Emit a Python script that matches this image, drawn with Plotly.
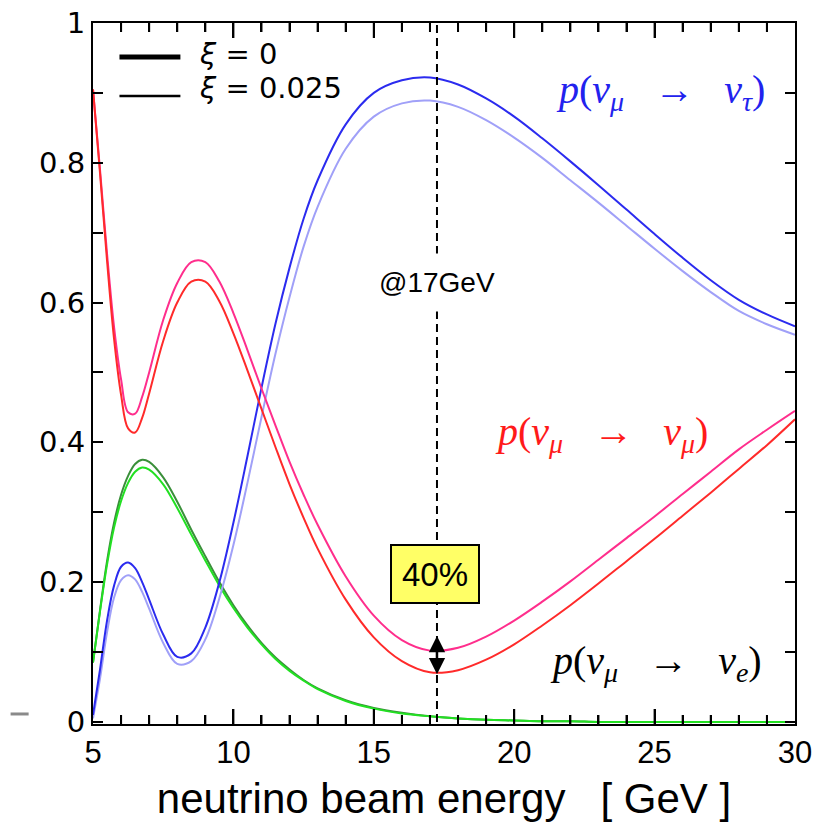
import plotly.graph_objects as go

# ---------------- data ----------------
energy = [5, 5.25, 5.5, 5.75, 6, 6.25, 6.5, 6.75, 7, 7.5, 8, 8.5, 9, 9.5, 10, 10.5,
          11, 11.5, 12, 12.5, 13, 14, 15, 16, 17, 18, 19, 20, 21, 22, 23, 24, 25,
          26, 27, 28, 29, 30]

p_tau_xi0 = [0.010, 0.075, 0.145, 0.195, 0.222, 0.228, 0.220, 0.200, 0.175, 0.125,
             0.093, 0.098, 0.135, 0.200, 0.285, 0.380, 0.478, 0.570, 0.650, 0.720,
             0.775, 0.855, 0.900, 0.918, 0.922, 0.912, 0.892, 0.866, 0.835, 0.802,
             0.768, 0.733, 0.698, 0.664, 0.632, 0.604, 0.583, 0.566]
p_tau_xi1 = [0.005, 0.062, 0.128, 0.178, 0.203, 0.210, 0.204, 0.186, 0.162, 0.113,
             0.083, 0.087, 0.118, 0.177, 0.253, 0.342, 0.436, 0.527, 0.608, 0.680,
             0.737, 0.820, 0.866, 0.885, 0.889, 0.880, 0.861, 0.836, 0.807, 0.775,
             0.743, 0.710, 0.677, 0.645, 0.615, 0.588, 0.569, 0.554]

p_mu_xi0 = [0.905, 0.790, 0.670, 0.565, 0.490, 0.443, 0.441, 0.465, 0.500, 0.575,
            0.628, 0.658, 0.658, 0.630, 0.585, 0.532, 0.477, 0.424, 0.372, 0.325,
            0.282, 0.208, 0.152, 0.117, 0.102, 0.106, 0.122, 0.145, 0.172, 0.201,
            0.232, 0.263, 0.294, 0.326, 0.358, 0.390, 0.418, 0.445]
p_mu_xi1 = [0.905, 0.785, 0.660, 0.548, 0.468, 0.420, 0.414, 0.435, 0.470, 0.545,
            0.600, 0.630, 0.630, 0.602, 0.556, 0.503, 0.448, 0.393, 0.340, 0.292,
            0.248, 0.175, 0.121, 0.087, 0.071, 0.074, 0.089, 0.111, 0.138, 0.167,
            0.198, 0.230, 0.262, 0.295, 0.328, 0.362, 0.396, 0.433]

p_e_xi0 = [0.085, 0.160, 0.230, 0.285, 0.325, 0.352, 0.369, 0.375, 0.372, 0.350,
           0.315, 0.275, 0.237, 0.200, 0.167, 0.138, 0.113, 0.092, 0.075, 0.060,
           0.048, 0.031, 0.020, 0.013, 0.008, 0.005, 0.003, 0.002, 0.001, 0.001,
           0.000, 0.000, 0.000, 0.000, 0.000, 0.000, 0.000, 0.000]
p_e_xi1 = [0.085, 0.158, 0.225, 0.278, 0.316, 0.342, 0.358, 0.364, 0.361, 0.340,
           0.306, 0.268, 0.231, 0.195, 0.163, 0.135, 0.111, 0.090, 0.073, 0.059,
           0.047, 0.030, 0.019, 0.012, 0.008, 0.005, 0.003, 0.002, 0.001, 0.001,
           0.000, 0.000, 0.000, 0.000, 0.000, 0.000, 0.000, 0.000]

y_ticktext = ["0", "0.2", "0.4", "0.6", "0.8", "1"]
y_ticks = [0, 0.2, 0.4, 0.6, 0.8, 1]
x_major_ticks = [10, 15, 20, 25]
x_minor_ticks = [6, 7, 8, 9, 11, 12, 13, 14, 16, 17, 18, 19, 21, 22, 23, 24,
                 26, 27, 28, 29]

E_MARK = 17.25          # energy of the dashed marker line
P_MU_MIN_XI0 = 0.101    # survival minimum, xi = 0
P_MU_MIN_XI1 = 0.070    # survival minimum, xi = 0.025

# ---------------- figure ----------------
SANS = "Liberation Sans, Arial, sans-serif"
WIDE = "DejaVu Sans, Verdana, sans-serif"
SERIF = "Liberation Serif, Times New Roman, serif"

series = [
    (p_e_xi0, "#3a8f3a"),
    (p_e_xi1, "#22e022"),
    (p_tau_xi1, "#a0a0f8"),
    (p_tau_xi0, "#2b2bef"),
    (p_mu_xi0, "#ff2e8c"),
    (p_mu_xi1, "#ff2a2a"),
]

fig = go.Figure()
for ys, col in series:
    fig.add_trace(go.Scatter(x=energy, y=ys, mode="lines",
                             line=dict(color=col, width=2, shape="spline", smoothing=1.0),
                             showlegend=False, hoverinfo="skip"))

fig.update_layout(
    width=814, height=834,
    margin=dict(l=93, r=19, t=23, b=110, autoexpand=False),
    paper_bgcolor="white", plot_bgcolor="white",
    showlegend=False,
    font=dict(family=SANS, color="black"),
    xaxis=dict(
        range=[5, 30], dtick=5, tick0=5,
        ticks="inside", ticklen=15, tickwidth=2, tickcolor="#000000",
        minor=dict(dtick=1, ticks="inside", ticklen=9, tickwidth=2, tickcolor="#000000"),
        showline=True, linecolor="black", linewidth=2,
        mirror="ticks", showgrid=False, zeroline=False, automargin=False,
        tickfont=dict(size=31, family=SANS, color="black"),
        title=dict(text="neutrino beam energy   [ GeV ]",
                   font=dict(size=42, family=SANS, color="black"), standoff=14),
    ),
    yaxis=dict(
        range=[-0.003, 1], tickmode="array", tickvals=y_ticks, ticktext=y_ticktext,
        ticks="inside", ticklen=10, tickwidth=2, tickcolor="black",
        minor=dict(dtick=0.1, ticks="inside", ticklen=10, tickwidth=2, tickcolor="black"),
        showline=True, linewidth=2, linecolor="black", mirror="ticks",
        showgrid=False, zeroline=False, automargin=False,
        tickfont=dict(size=29, family=WIDE, color="black"),
    ),
)

# x tick marks, bottom and top, placed through the x scale
MAJ_LEN = 15 / 701.0
MIN_LEN = 9 / 701.0
for xv, ln in [(v, MAJ_LEN) for v in x_major_ticks] + [(v, MIN_LEN) for v in x_minor_ticks]:
    fig.add_shape(type="line", xref="x", yref="paper", x0=xv, x1=xv, y0=0, y1=ln,
                  line=dict(color="black", width=2), layer="above")
    fig.add_shape(type="line", xref="x", yref="paper", x0=xv, x1=xv, y0=1 - ln, y1=1,
                  line=dict(color="black", width=2), layer="above")

# dashed marker line
fig.add_shape(type="line", xref="x", yref="y", x0=E_MARK, x1=E_MARK, y0=0, y1=1,
              line=dict(color="black", width=2, dash="8px,5px"), layer="above")

# legend (drawn manually)
fig.add_shape(type="line", xref="paper", yref="paper", x0=0.0377, x1=0.1245,
              y0=0.9515, y1=0.9515, line=dict(color="black", width=5))
fig.add_shape(type="line", xref="paper", yref="paper", x0=0.0377, x1=0.1245,
              y0=0.8959, y1=0.8959, line=dict(color="black", width=2.5))
fig.add_annotation(xref="paper", yref="paper", x=0.1486, y=0.9558, xanchor="left",
                   yanchor="middle", showarrow=False,
                   text="<i>ξ</i> = 0", font=dict(size=29, family=WIDE, color="black"))
fig.add_annotation(xref="paper", yref="paper", x=0.1486, y=0.9073, xanchor="left",
                   yanchor="middle", showarrow=False,
                   text="<i>ξ</i> = 0.025", font=dict(size=29, family=WIDE, color="black"))

# small grey mark at left
fig.add_shape(type="line", xref="paper", yref="paper", x0=-0.1174, x1=-0.0917,
              y0=0.0143, y1=0.0143, line=dict(color="#8a8a8a", width=3))

# curve labels
fig.add_annotation(x=29.02, y=0.9016, xanchor="right", yanchor="middle", showarrow=False,
                   text="<i>p</i>(<i>ν</i><sub><i>μ</i></sub>   →   <i>ν</i><sub><i>τ</i></sub>)",
                   font=dict(size=40, family=SERIF, color="#2222ee"))
fig.add_annotation(x=26.96, y=0.412, xanchor="right", yanchor="middle", showarrow=False,
                   text="<i>p</i>(<i>ν</i><sub><i>μ</i></sub>   →   <i>ν</i><sub><i>μ</i></sub>)",
                   font=dict(size=40, family=SERIF, color="#ff1a1a"))
fig.add_annotation(x=28.91, y=0.084, xanchor="right", yanchor="middle", showarrow=False,
                   text="<i>p</i>(<i>ν</i><sub><i>μ</i></sub>   →   <i>ν</i><sub><i>e</i></sub>)",
                   font=dict(size=40, family=SERIF, color="black"))

# @17GeV label
fig.add_annotation(x=E_MARK, y=0.629, showarrow=False, text="@17GeV",
                   bgcolor="white", borderpad=13,
                   font=dict(size=28, family=SANS, color="black"))

# 40% box
fig.add_annotation(x=17.18, y=0.211, showarrow=False, text="40%",
                   bgcolor="#ffff66", bordercolor="black", borderwidth=2, borderpad=1,
                   width=84, height=54,
                   font=dict(size=33, family=SANS, color="black"))

# double arrow between the two survival minima
fig.add_annotation(x=E_MARK, y=P_MU_MIN_XI0 + 0.022, ax=E_MARK, ay=P_MU_MIN_XI1 - 0.004,
                   xref="x", yref="y", axref="x", ayref="y", text="",
                   showarrow=True, arrowside="end+start", arrowhead=2,
                   arrowsize=1.3, arrowwidth=2.5, arrowcolor="black")

fig.write_html("out.html")
